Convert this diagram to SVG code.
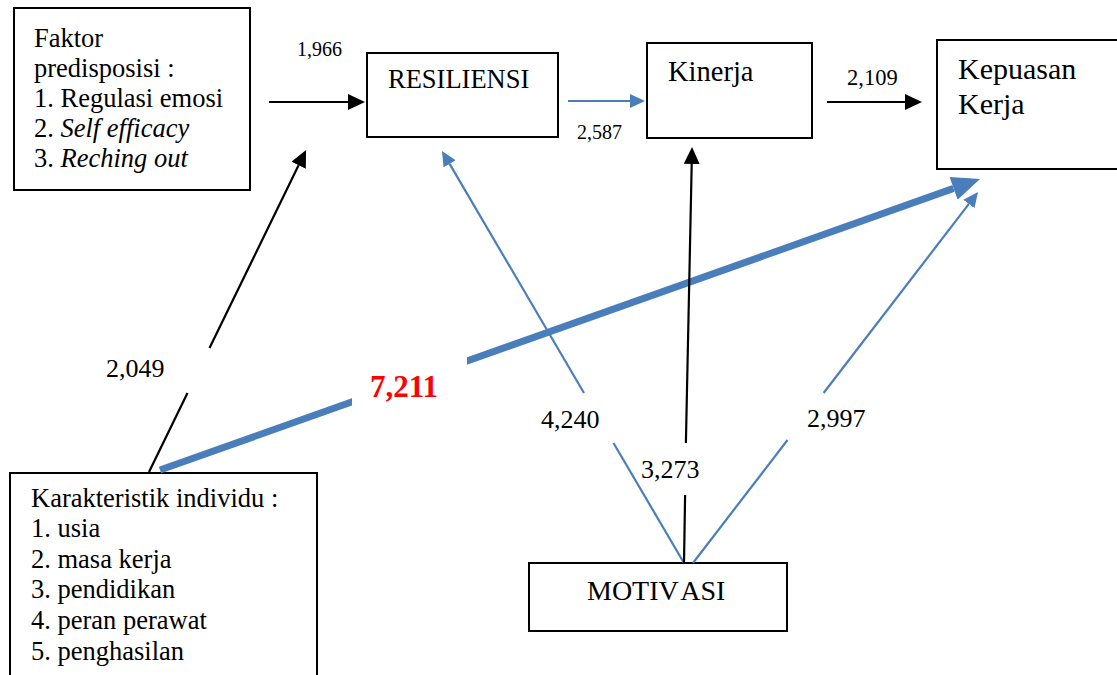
<svg xmlns="http://www.w3.org/2000/svg" width="1117" height="675" viewBox="0 0 1117 675">
  <style>
    .box { fill: #ffffff; stroke: #000000; stroke-width: 2; }
    .t { font-family: "Liberation Serif", "Times New Roman", serif; fill: #000000; }
    .body { font-size: 26.5px; }
    .num { font-size: 26px; }
    .small { font-size: 20px; }
    .blk { stroke: #000000; stroke-width: 2.2; fill: none; }
    .blu { stroke: #4a7ebb; stroke-width: 2.2; fill: none; }
    .blu-thick { stroke: #4a7ebb; stroke-width: 7; fill: none; }
  </style>
  <defs>
    <marker id="ahBlack" markerUnits="userSpaceOnUse" markerWidth="18" markerHeight="18" refX="0" refY="8" orient="auto">
      <path d="M0,0 L17,8 L0,16 Z" fill="#000000"/>
    </marker>
    <marker id="ahBlue" markerUnits="userSpaceOnUse" markerWidth="16" markerHeight="16" refX="0" refY="7" orient="auto">
      <path d="M0,0 L15,7 L0,14 Z" fill="#4a7ebb"/>
    </marker>
    <marker id="ahBlueBig" markerUnits="userSpaceOnUse" markerWidth="30" markerHeight="26" refX="0" refY="12" orient="auto">
      <path d="M0,0 L28,12 L0,24 Z" fill="#4a7ebb"/>
    </marker>
  </defs>

  <rect width="1117" height="675" fill="#ffffff"/>

  <!-- nodes -->
  <g id="faktor">
    <rect class="box" x="14" y="8" width="236" height="182"/>
    <text class="t body" x="34" y="47">Faktor</text>
    <text class="t body" x="34" y="77">predisposisi :</text>
    <text class="t body" x="34" y="107">1. Regulasi emosi</text>
    <text class="t body" x="34" y="137">2. <tspan font-style="italic">Self efficacy</tspan></text>
    <text class="t body" x="34" y="167">3. <tspan font-style="italic">Reching out</tspan></text>
  </g>

  <g id="resiliensi">
    <rect class="box" x="367" y="53" width="191" height="84"/>
    <text class="t body" x="388" y="88">RESILIENSI</text>
  </g>

  <g id="kinerja">
    <rect class="box" x="647" y="43" width="165" height="95"/>
    <text class="t" font-size="28.5" x="668" y="81">Kinerja</text>
  </g>

  <g id="kepuasan">
    <rect class="box" x="937" y="40" width="200" height="129"/>
    <text class="t" font-size="30" x="958" y="79">Kepuasan</text>
    <text class="t" font-size="30" x="958" y="114">Kerja</text>
  </g>

  <g id="karakteristik">
    <rect class="box" x="10" y="473" width="307" height="220"/>
    <text class="t body" x="31" y="507">Karakteristik individu :</text>
    <text class="t body" x="31" y="537">1. usia</text>
    <text class="t body" x="31" y="568">2. masa kerja</text>
    <text class="t body" x="31" y="598">3. pendidikan</text>
    <text class="t body" x="31" y="629">4. peran perawat</text>
    <text class="t body" x="31" y="660">5. penghasilan</text>
  </g>

  <g id="motivasi">
    <rect class="box" x="529" y="563" width="258" height="68"/>
    <text class="t" font-size="28" x="587" y="600">MOTIV<tspan dx="5">ASI</tspan></text>
  </g>

  <!-- connectors -->
  <g id="connectors">
    <!-- Faktor predisposisi -> RESILIENSI -->
    <path class="blk" d="M269,102 L348,102" marker-end="url(#ahBlack)"/>
    <!-- RESILIENSI -> Kinerja -->
    <path class="blu" d="M568,101 L630,101" marker-end="url(#ahBlue)"/>
    <!-- Kinerja -> Kepuasan Kerja -->
    <path class="blk" d="M827,102 L905,102" marker-end="url(#ahBlack)"/>
    <!-- Karakteristik individu -> Faktor predisposisi (broken around its label) -->
    <path class="blk" d="M149,472 L187.5,393"/>
    <path class="blk" d="M209.5,348 L298.6,165.3" marker-end="url(#ahBlack)"/>
    <!-- Karakteristik individu -> Kepuasan Kerja (thick) -->
    <path class="blu-thick" d="M160,470 L953.6,188.4" marker-end="url(#ahBlueBig)"/>
    <rect x="352" y="349" width="115" height="62" fill="#ffffff"/>
    <!-- MOTIVASI -> RESILIENSI -->
    <path class="blu" d="M684,563 L613.5,443"/>
    <path class="blu" d="M584,393 L449.6,163.9" marker-end="url(#ahBlue)"/>
    <!-- MOTIVASI -> Kinerja -->
    <path class="blk" d="M684,563 L685.1,495"/>
    <path class="blk" d="M685.9,443 L691.7,164" marker-end="url(#ahBlack)"/>
    <!-- MOTIVASI -> Kepuasan Kerja -->
    <path class="blu" d="M693,563 L787.5,440"/>
    <path class="blu" d="M823.6,393 L968.9,203.9" marker-end="url(#ahBlue)"/>
  </g>

  <!-- connector labels -->
  <g id="labels">
    <text class="t small" x="297" y="56">1,966</text>
    <text class="t small" x="577" y="139" font-size="21">2,587</text>
    <text class="t" font-size="22.5" x="847" y="85">2,109</text>
    <text class="t num" x="106" y="377">2,049</text>
    <text class="t" font-size="31" font-weight="bold" fill="#ff0000" style="fill:#ff0000" x="370" y="397">7,211</text>
    <text class="t num" x="541" y="428">4,240</text>
    <text class="t num" x="641" y="478">3,273</text>
    <text class="t num" x="807" y="427">2,997</text>
  </g>
</svg>
